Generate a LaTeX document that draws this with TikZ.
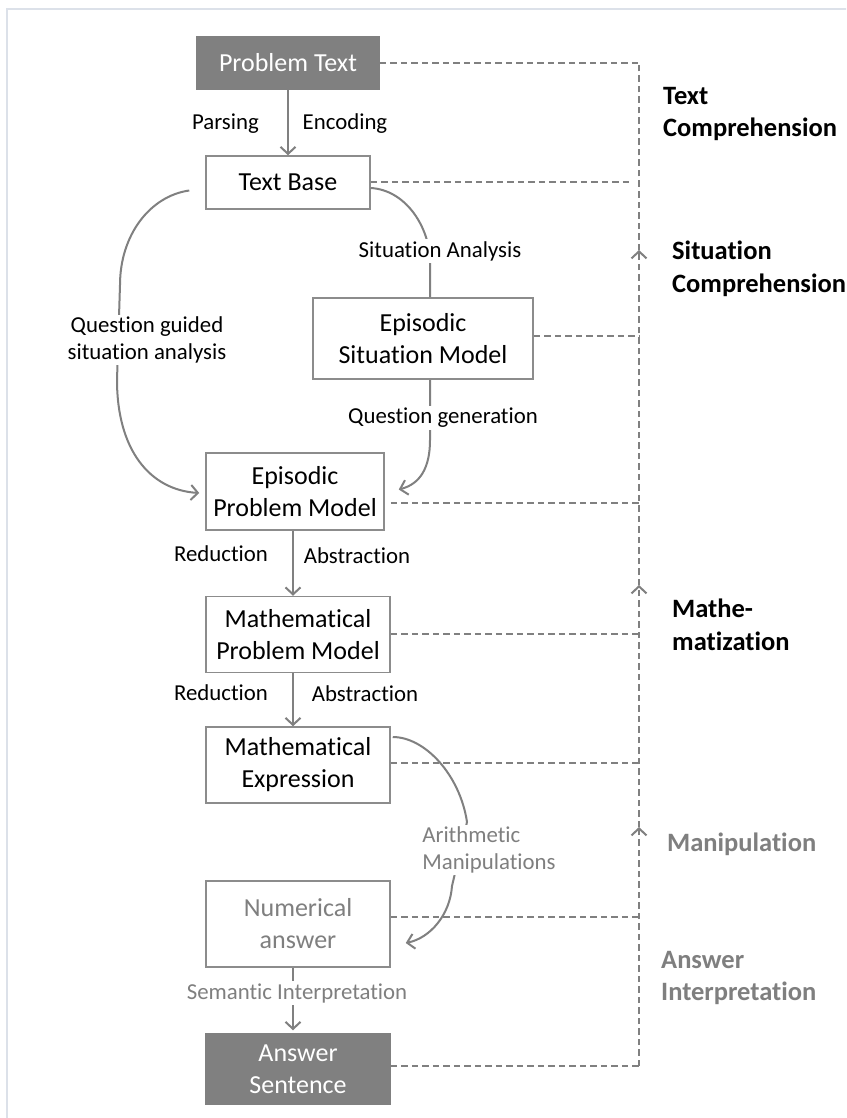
\documentclass[tikz,border=0pt]{standalone}
\usepackage{fontspec}
\setmainfont{Carlito}[Ligatures={NoCommon}]
\usetikzlibrary{arrows.meta,calc}
\definecolor{ln}{HTML}{808080}
\definecolor{bd}{HTML}{8C8C8C}
\definecolor{framec}{HTML}{DCE1E9}
\definecolor{gtxt}{HTML}{7F7F7F}
\begin{document}
\begin{tikzpicture}[x=1pt,y=-1pt,
  box/.style={draw=bd, line width=1.5pt, fill=white, align=center, inner sep=0pt,
    font=\fontsize{26}{32}\selectfont},
  dbox/.style={box, fill=ln, draw=ln, text=white},
  lbl/.style={font=\fontsize{22.8}{27}\selectfont, inner sep=2pt, align=center},
  wl/.style={lbl, fill=white},
  tip/.style={-{Straight Barb[length=7pt,width=15pt,line width=2pt]}},
  conn/.style={draw=ln, line width=2pt, tip},
  plainc/.style={draw=ln, line width=2pt},
  dsh/.style={draw=ln, line width=2pt, dash pattern=on 6.5pt off 4pt},
  side/.style={font=\fontsize{26.5}{32.5}\selectfont\bfseries, align=left, anchor=west, inner sep=0pt}
]
\useasboundingbox (0,0) rectangle (846,1118);
\clip (0,0) rectangle (846,1118);
\fill[white] (0,0) rectangle (846,1118);
% frame
\draw[framec, line width=2pt] (7,1120) -- (7,9) -- (850,9);

% boxes
\node[dbox, minimum width=182pt, minimum height=52pt] (PT) at (288,63) {Problem Text};
\node[box, minimum width=164pt, minimum height=53pt] (TB) at (288,182.5) {Text Base};
\node[box, minimum width=220pt, minimum height=81pt] (ESM) at (423,338.5) {Episodic\\Situation Model};
\node[box, minimum width=178pt, minimum height=77pt] (EPM) at (295,491.5) {Episodic\\Problem Model};
\node[box, minimum width=184pt, minimum height=76pt] (MPM) at (298,634.5) {Mathematical\\Problem Model};
\node[box, minimum width=184pt, minimum height=76pt] (ME) at (298,765) {Mathematical\\Expression};
\node[box, minimum width=184pt, minimum height=86pt, text=gtxt] (NA) at (298,924) {Numerical\\answer};
\node[dbox, minimum width=184pt, minimum height=70pt] (AS) at (298,1069) {Answer\\Sentence};

% vertical dashed line with up arrows
\coordinate (vtop) at (639,63);
\coordinate (a1) at (639,250);
\coordinate (a2) at (639,585);
\coordinate (a3) at (639,827);
\coordinate (vbot) at (639,1066);
\draw[dsh, tip] (vbot) -- (a3);
\draw[dsh, tip] (a3) -- (a2);
\draw[dsh, tip] (a2) -- (a1);
\draw[dsh] (a1) -- (vtop);

% dashed horizontals
\draw[dsh] (PT.east) -- (vtop);
\draw[dsh] (TB.east) -- ($(TB.east -| vtop)+(-9,0)$);
\draw[dsh] ($(ESM.east)+(0,-3)$) -- ($(ESM.east -| vtop)+(0,-3)$);
\draw[dsh] ($(EPM.east)+(6,11)$) -- ($(EPM.east -| vtop)+(0,11)$);
\draw[dsh] ($(MPM.east)+(0,-1)$) -- ($(MPM.east -| vtop)+(0,-1)$);
\draw[dsh] ($(ME.east)+(0,-2)$) -- ($(ME.east -| vtop)+(0,-2)$);
\draw[dsh] ($(NA.east)+(0,-7)$) -- ($(NA.east -| vtop)+(0,-7)$);
\draw[dsh] ($(AS.east)+(0,-3)$) -- ($(AS.east -| vtop)+(0,-3)$);

% main flow
\draw[conn] (PT.south) -- (TB.north);
\node[lbl] (lp) at (225.5,124) {Parsing};
\node[lbl] (le) at (345,124) {Encoding};

% Text Base -> Episodic Situation Model
\draw[plainc] ($(TB.east)+(0,5.5)$) .. controls (405,190) and (428,225) .. (430,258) -- (ESM.north -| 430,0);
\node[wl] (lsa) at (440,251) {Situation Analysis};

% ESM -> EPM
\draw[conn] (ESM.south -| 430,0) -- (430,440) .. controls (430,468) and (420,484) .. ($(EPM.east)+(14,-2)$);
\node[wl] (lqg) at (443,418) {Question generation};

% Text Base -> EPM (left)
\draw[conn] ($(TB.west)+(-16,8)$) .. controls (150,196) and (120,235) .. (120,285) -- (117,380)
  .. controls (117,450) and (150,490) .. ($(EPM.west)+(-6,1.5)$);
\node[wl] (lqgsa) at (147,340) {Question guided\\situation analysis};

% EPM -> MPM
\draw[conn] ($(EPM.south)+(-2,0)$) -- ($(MPM.north)+(-5,0)$);
\node[lbl] (lr1) at (221,554) {Reduction};
\node[lbl] (la1) at (357,556) {Abstraction};

% MPM -> ME
\draw[conn] ($(MPM.south)+(-5,0)$) -- ($(ME.north)+(-5,0)$);
\node[lbl] (lr2) at (221,693) {Reduction};
\node[lbl] (la2) at (365,694) {Abstraction};

% ME -> NA
\draw[conn] ($(ME.east)+(2,-28)$) .. controls (425,737) and (460,775) .. (467,822) -- (452,886)
  .. controls (450,915) and (430,938) .. ($(NA.east)+(15,19)$);
\node[wl, text=gtxt, align=left] (lam) at (489,850) {Arithmetic\\Manipulations};

% NA -> AS
\draw[conn] ($(NA.south)+(-5,0)$) -- ($(AS.north)+(-5,-3)$);
\node[wl, text=gtxt] (lsi) at (297,993) {Semantic Interpretation};

% side labels
\node[side] (s1) at (663,114) {Text\\Comprehension};
\node[side] (s2) at (672,269) {Situation\\Comprehension};
\node[side] (s3) at (672,625) {Mathe-\\matization};
\node[side, text=gtxt] (s4) at (667,844) {Manipulation};
\node[side, text=gtxt] (s5) at (661,978) {Answer\\Interpretation};
\end{tikzpicture}
\end{document}
